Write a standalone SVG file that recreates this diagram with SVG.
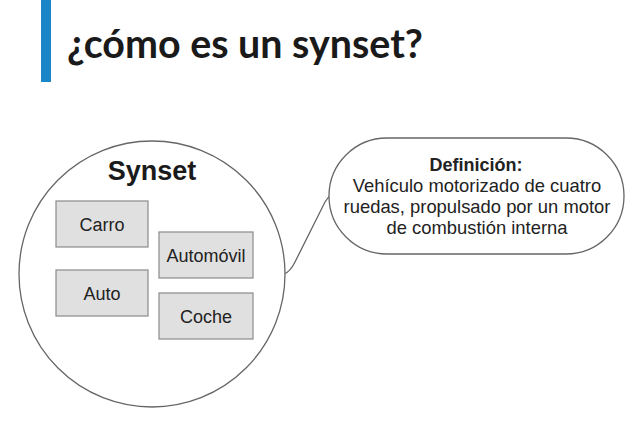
<svg xmlns="http://www.w3.org/2000/svg" width="633" height="423" viewBox="0 0 633 423">
<style>
.bg{fill:#ffffff}
.box{fill:#e0e0e0;stroke:#8a8a8a;stroke-width:1.2}
.lbl{font-family:"Liberation Sans",Arial,sans-serif;font-size:18px;fill:#222;text-anchor:middle}
.def{font-size:18.4px}
.outline{fill:#ffffff;stroke:#666;stroke-width:1.3}
.conn{fill:none;stroke:#666;stroke-width:1.3}
</style>
<rect class="bg" x="0" y="0" width="633" height="423"/>
<g id="title">
<rect x="41" y="0" width="10" height="82" fill="#1a86c8"/>
<text x="67" y="58" font-family="Lato,'Open Sans',sans-serif" font-weight="bold" font-size="39.4" fill="#1a1a1a">¿cómo es un synset?</text>
</g>
<g id="connectors">
<path class="conn" d="M284 274 Q290 272 295 262 L325 202 Q328 197 331 195"/>
</g>
<g id="synset">
<circle class="outline" cx="152" cy="274" r="133"/>
<text x="152" y="180" font-family="'Liberation Sans',Arial,sans-serif" font-weight="bold" font-size="27" fill="#1a1a1a" text-anchor="middle">Synset</text>
</g>
<g id="carro">
<rect class="box" x="56" y="201" width="92" height="46"/>
<text class="lbl" x="102" y="231">Carro</text>
</g>
<g id="auto">
<rect class="box" x="56" y="270" width="92" height="46"/>
<text class="lbl" x="102" y="300">Auto</text>
</g>
<g id="automovil">
<rect class="box" x="159" y="232" width="94" height="46"/>
<text class="lbl" x="206" y="262">Automóvil</text>
</g>
<g id="coche">
<rect class="box" x="159" y="293" width="94" height="46"/>
<text class="lbl" x="206" y="323">Coche</text>
</g>
<g id="definicion">
<rect class="outline" x="329" y="138" width="295" height="116" rx="58" ry="58"/>
<text class="lbl" x="476" y="171" font-weight="bold" font-size="17.5">Definición:</text>
<text class="lbl def" x="477" y="192">Vehículo motorizado de cuatro</text>
<text class="lbl def" x="477" y="213">ruedas, propulsado por un motor</text>
<text class="lbl def" x="477" y="234">de combustión interna</text>
</g>
</svg>
